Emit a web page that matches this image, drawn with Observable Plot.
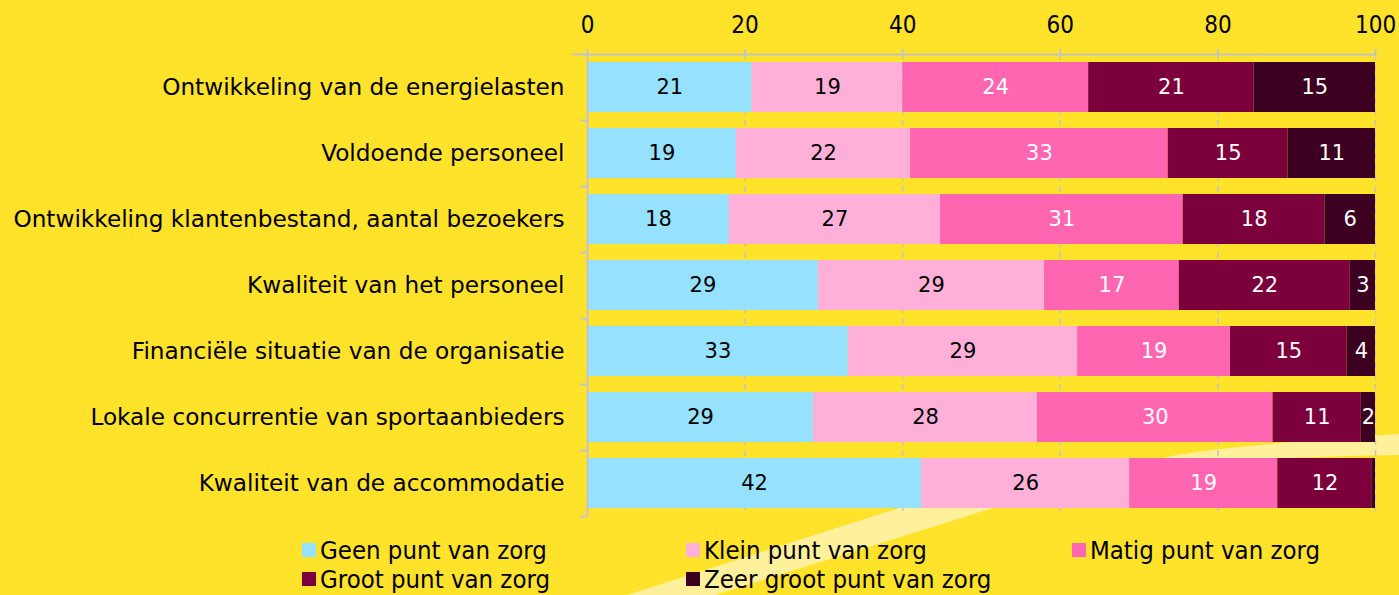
<!DOCTYPE html>
<html>
<head>
<meta charset="utf-8">
<script src="https://cdn.jsdelivr.net/npm/d3@7"></script>
<script src="https://cdn.jsdelivr.net/npm/@observablehq/plot@0.6"></script>
<style>
  html, body { margin: 0; padding: 0; background: #FFE32B; }
  #wrap { position: relative; width: 1399px; height: 595px; overflow: hidden; background: #FFE32B; }
  #stripe { position: absolute; left: 0; top: 0; }
  #chart { position: absolute; left: 0; top: 0; }
  #legend { position: absolute; left: 0; top: 535px; width: 1399px; font-family: "DejaVu Sans Condensed", "DejaVu Sans", sans-serif; font-size: 25.5px; line-height: 28px; color: #000; }
  .item { position: absolute; display: flex; align-items: center; height: 30px; white-space: nowrap; }
  .sw { width: 14px; height: 14px; margin-right: 4px; }
</style>
</head>
<body>
<div id="wrap">
  <svg id="stripe" width="1399" height="595"><path d="M627,595 L893,510 Q1050,460 1399,455 L1399,434 Q1220,446 1167,457 L993,508 L715,595 Z" fill="#FFF09B"/></svg>
  <div id="chart"></div>
  <div id="legend"></div>
</div>
<script>
const categories = [
  "Ontwikkeling van de energielasten",
  "Voldoende personeel",
  "Ontwikkeling klantenbestand, aantal bezoekers",
  "Kwaliteit van het personeel",
  "Financiële situatie van de organisatie",
  "Lokale concurrentie van sportaanbieders",
  "Kwaliteit van de accommodatie"
];
const levels = ["Geen punt van zorg", "Klein punt van zorg", "Matig punt van zorg", "Groot punt van zorg", "Zeer groot punt van zorg"];
const colors = ["#96E1FE", "#FFB0D8", "#FF66B2", "#7B003C", "#3C0020"];
const geen      = [20.9, 18.9, 18.0, 29.3, 33.1, 28.7, 42.4];
const klein     = [19.1, 22.1, 26.8, 28.7, 29.1, 28.4, 26.4];
const matig     = [23.6, 32.7, 30.8, 17.1, 19.4, 29.9, 18.8];
const groot     = [21.0, 15.2, 18.0, 21.7, 14.8, 11.2, 12.0];
const zeerGroot = [15.4, 11.1, 6.4, 3.2, 3.6, 1.8, 0.4];
const xTicks = [0, 20, 40, 60, 80, 100];

const series = [geen, klein, matig, groot, zeerGroot];
const data = [];
categories.forEach((c, i) => {
  series.forEach((s, j) => data.push({category: c, level: levels[j], li: j, value: s[i]}));
});

const grey = "#C4C4C4";
const stackOpts = {x: "value", y: "category", z: "level", text: d => String(Math.round(d.value)), fontSize: 21, fontFamily: "DejaVu Sans", letterSpacing: 1};

const chart = Plot.plot({
  width: 1399,
  height: 525,
  marginLeft: 587,
  marginRight: 24,
  marginTop: 54,
  marginBottom: 9,
  style: {background: "transparent", overflow: "visible"},
  x: {domain: [0, 100]},
  y: {domain: categories, paddingInner: 16 / 66, paddingOuter: 8 / 66},
  color: {domain: levels, range: colors},
  marks: [
    Plot.ruleX(xTicks.filter(d => d > 0), {stroke: grey, strokeWidth: 1.5, strokeDasharray: "6,5"}),
    Plot.barX(data, {x: "value", y: "category", fill: "level"}),
    Plot.text(data, Plot.filter(d => d.li < 2 && d.value >= 1, Plot.stackX({...stackOpts, fill: "black"}))),
    Plot.text(data, Plot.filter(d => d.li >= 2 && d.value >= 1, Plot.stackX({...stackOpts, fill: "white"}))),
    Plot.ruleX([0], {stroke: grey, strokeWidth: 2}),
    Plot.ruleY(categories, {y: d => d, x1: -0.9, x2: 0, dy: -33, stroke: grey, strokeWidth: 2}),
    Plot.ruleY([categories[categories.length - 1]], {y: d => d, x1: -0.9, x2: 0, dy: 33, stroke: grey, strokeWidth: 2}),
    Plot.ruleY([categories[0]], {y: d => d, x1: -1.85, x2: 100, dy: -33, stroke: grey, strokeWidth: 2}),
    Plot.axisX({anchor: "top", ticks: xTicks, tickSize: 6, tickPadding: 16, fontSize: 24, fontFamily: "DejaVu Sans Condensed", stroke: grey, strokeWidth: 2, fill: "black", label: null}),
    Plot.axisY({tickSize: 0, tickPadding: 23, fontSize: 23.2, fontFamily: "DejaVu Sans", fill: "black", label: null})
  ]
});
document.getElementById("chart").appendChild(chart);

const legend = document.getElementById("legend");
const lx = [302, 686, 1072];
levels.forEach((l, i) => {
  const it = document.createElement("div");
  it.className = "item";
  it.style.left = lx[i % 3] + "px";
  it.style.top = (Math.floor(i / 3) * 29) + "px";
  const sw = document.createElement("span");
  sw.className = "sw";
  sw.style.background = colors[i];
  const tx = document.createElement("span");
  tx.textContent = l;
  it.appendChild(sw);
  it.appendChild(tx);
  legend.appendChild(it);
});
</script>
</body>
</html>
